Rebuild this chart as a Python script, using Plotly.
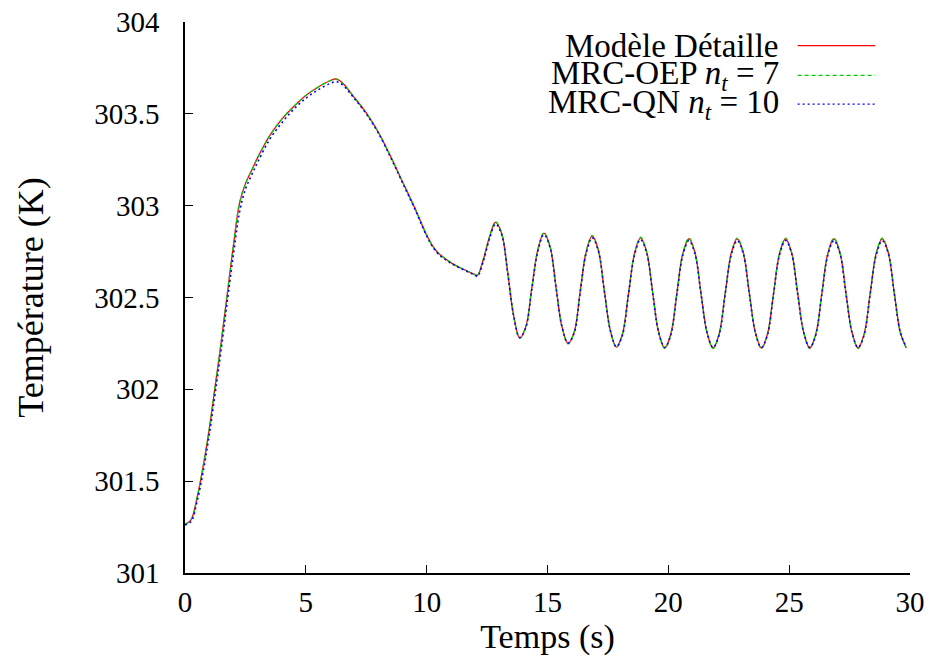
import plotly.graph_objects as go

# ---- data ----
time_s = [0.0, 0.25, 0.5, 0.75, 1.0, 1.25, 1.5, 1.75, 2.0, 2.25, 2.5, 2.75, 3.0,
          3.5, 4.0, 4.5, 5.0, 5.5, 6.0, 6.25, 6.5, 7.0, 7.5, 8.0, 8.5, 9.0, 9.5,
          10.0, 10.25, 10.5, 11.0, 11.5, 12.0, 12.1, 12.35, 12.6, 12.85, 13.1,
          13.35, 13.6, 13.85, 14.1, 14.35, 14.6, 14.85, 15.1, 15.35, 15.6, 15.85,
          16.1, 16.35, 16.6, 16.85, 17.1, 17.35, 17.6, 17.85, 18.1, 18.35, 18.6,
          18.85, 19.1, 19.35, 19.6, 19.85, 20.1, 20.35, 20.6, 20.85, 21.1, 21.35,
          21.6, 21.85, 22.1, 22.35, 22.6, 22.85, 23.1, 23.35, 23.6, 23.85, 24.1,
          24.35, 24.6, 24.85, 25.1, 25.35, 25.6, 25.85, 26.1, 26.35, 26.6, 26.85,
          27.1, 27.35, 27.6, 27.85, 28.1, 28.35, 28.6, 28.85, 29.1, 29.35, 29.6,
          29.85]

temp_detaille = [301.265, 301.29, 301.41, 301.58, 301.78, 302.02, 302.26, 302.52,
                 302.78, 303.01, 303.12, 303.19, 303.26, 303.38, 303.47, 303.54,
                 303.60, 303.645, 303.68, 303.69, 303.67, 303.59, 303.505, 303.40,
                 303.27, 303.13, 302.99, 302.84, 302.78, 302.74, 302.69, 302.655,
                 302.625, 302.62, 302.71, 302.83, 302.91, 302.85, 302.64, 302.40,
                 302.28, 302.34, 302.55, 302.76, 302.85, 302.78, 302.56, 302.34,
                 302.25, 302.31, 302.53, 302.75, 302.835, 302.76, 302.54, 302.32,
                 302.23, 302.30, 302.52, 302.74, 302.825, 302.75, 302.53, 302.31,
                 302.225, 302.30, 302.52, 302.74, 302.82, 302.745, 302.525, 302.31,
                 302.225, 302.30, 302.52, 302.74, 302.82, 302.745, 302.525, 302.31,
                 302.225, 302.30, 302.52, 302.74, 302.82, 302.745, 302.525, 302.31,
                 302.225, 302.30, 302.52, 302.74, 302.82, 302.745, 302.525, 302.31,
                 302.225, 302.30, 302.52, 302.74, 302.82, 302.745, 302.525, 302.31,
                 302.225]

temp_oep = [301.265, 301.29, 301.41, 301.58, 301.78, 302.02, 302.26, 302.52,
            302.78, 303.01, 303.12, 303.19, 303.26, 303.38, 303.47, 303.54,
            303.60, 303.645, 303.68, 303.688, 303.668, 303.59, 303.505, 303.40,
            303.27, 303.13, 302.99, 302.84, 302.78, 302.74, 302.69, 302.655,
            302.625, 302.62, 302.71, 302.83, 302.912, 302.85, 302.64, 302.40,
            302.278, 302.34, 302.55, 302.76, 302.853, 302.78, 302.56, 302.34,
            302.247, 302.31, 302.53, 302.75, 302.838, 302.76, 302.54, 302.32,
            302.228, 302.30, 302.52, 302.74, 302.828, 302.75, 302.53, 302.31,
            302.222, 302.30, 302.52, 302.74, 302.823, 302.745, 302.525, 302.31,
            302.222, 302.30, 302.52, 302.74, 302.823, 302.745, 302.525, 302.31,
            302.222, 302.30, 302.52, 302.74, 302.823, 302.745, 302.525, 302.31,
            302.222, 302.30, 302.52, 302.74, 302.823, 302.745, 302.525, 302.31,
            302.222, 302.30, 302.52, 302.74, 302.823, 302.745, 302.525, 302.31,
            302.222]

temp_qn = [301.262, 301.28, 301.39, 301.55, 301.75, 301.98, 302.22, 302.48,
           302.73, 302.96, 303.09, 303.165, 303.235, 303.36, 303.45, 303.525,
           303.585, 303.63, 303.665, 303.675, 303.66, 303.585, 303.50, 303.395,
           303.265, 303.125, 302.985, 302.835, 302.775, 302.735, 302.687, 302.652,
           302.622, 302.615, 302.70, 302.82, 302.90, 302.845, 302.635, 302.40,
           302.282, 302.335, 302.545, 302.75, 302.842, 302.775, 302.555, 302.34,
           302.252, 302.305, 302.525, 302.74, 302.825, 302.755, 302.535, 302.32,
           302.232, 302.295, 302.515, 302.73, 302.815, 302.745, 302.525, 302.31,
           302.228, 302.295, 302.515, 302.73, 302.81, 302.74, 302.52, 302.31,
           302.228, 302.295, 302.515, 302.73, 302.81, 302.74, 302.52, 302.31,
           302.228, 302.295, 302.515, 302.73, 302.81, 302.74, 302.52, 302.31,
           302.228, 302.295, 302.515, 302.73, 302.81, 302.74, 302.52, 302.31,
           302.228, 302.295, 302.515, 302.73, 302.81, 302.74, 302.52, 302.31,
           302.228]

x_ticks = [0, 5, 10, 15, 20, 25, 30]
y_ticks = [301, 301.5, 302, 302.5, 303, 303.5, 304]
y_tick_labels = ["301", "301.5", "302", "302.5", "303", "303.5", "304"]

legend_names = ["Modèle Détaille",
                "MRC-OEP <i>n</i><sub><i>t</i></sub> = 7",
                "MRC-QN <i>n</i><sub><i>t</i></sub> = 10"]

FONT = "Liberation Serif"
LEGEND_SIZE = 33
XTITLE_SIZE = 34
YTITLE_SIZE = 36
TICK_SIZE = 29
RED = "#ff0000"
GREEN = "#00d000"
BLUE = "#0000ff"

fig = go.Figure()
fig.add_trace(go.Scatter(x=time_s, y=temp_detaille, mode="lines", showlegend=False,
                         line=dict(color=RED, width=1.3, shape="spline", smoothing=1.0)))
fig.add_trace(go.Scatter(x=time_s, y=temp_oep, mode="lines", showlegend=False,
                         line=dict(color=GREEN, width=1.3, dash="4px,3px", shape="spline", smoothing=1.0)))
fig.add_trace(go.Scatter(x=time_s, y=temp_qn, mode="lines", showlegend=False,
                         line=dict(color=BLUE, width=1.6, dash="2px,3px", shape="spline", smoothing=1.0)))

# custom legend: right-aligned text, line sample to the right (gnuplot style)
leg_y = [0.957, 0.903, 0.851]
leg_colors = [RED, GREEN, BLUE]
leg_dash = ["solid", "4px,3px", "2px,3px"]
for name, yy, col, dsh in zip(legend_names, leg_y, leg_colors, leg_dash):
    fig.add_annotation(x=0.822, y=yy, xref="paper", yref="paper", text=name,
                       showarrow=False, xanchor="right", yanchor="middle",
                       font=dict(family=FONT, size=LEGEND_SIZE, color="black"))
    fig.add_shape(type="line", xref="paper", yref="paper", x0=0.845, x1=0.952,
                  y0=yy, y1=yy, line=dict(color=col, width=1.3, dash=dsh))

fig.update_layout(
    width=934, height=663,
    margin=dict(l=185, r=24, t=22, b=90),
    paper_bgcolor="white", plot_bgcolor="white",
    font=dict(family=FONT, size=LEGEND_SIZE, color="black"),
)
fig.update_xaxes(range=[0, 30], tickvals=x_ticks, showgrid=False, zeroline=False,
                 showline=True, linecolor="black", linewidth=1.5, ticks="inside",
                 ticklen=8, tickwidth=1.3, tickcolor="black", ticklabelstandoff=2,
                 tickfont=dict(family=FONT, size=TICK_SIZE, color="black"),
                 title=dict(text="Temps (s)", standoff=7,
                            font=dict(family=FONT, size=XTITLE_SIZE, color="black")),
                 automargin=False)
fig.update_yaxes(range=[301, 304], tickvals=y_ticks, ticktext=y_tick_labels,
                 showgrid=False, zeroline=False, showline=True, linecolor="black",
                 linewidth=1.5, ticks="inside", ticklen=8, tickwidth=1.3,
                 tickcolor="black", ticklabelstandoff=18,
                 tickfont=dict(family=FONT, size=TICK_SIZE, color="black"),
                 title=dict(text="Température (K)", standoff=40,
                            font=dict(family=FONT, size=YTITLE_SIZE, color="black")),
                 automargin=False)

fig.write_html("out.html", config={"displayModeBar": False},
               post_script="document.body.style.margin='0';")
